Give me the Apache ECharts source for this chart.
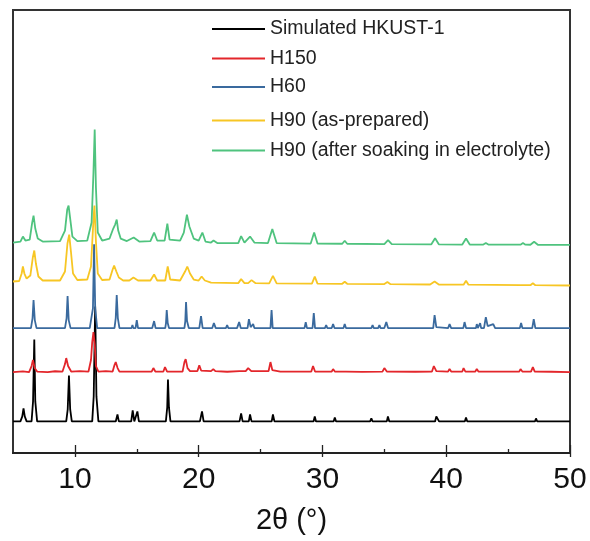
<!DOCTYPE html>
<html>
<head>
<meta charset="utf-8">
<script src="https://cdn.jsdelivr.net/npm/echarts@6/dist/echarts.min.js"></script>
<style>
html,body{margin:0;padding:0;background:#fff;}
#chart{width:590px;height:541px;}
</style>
</head>
<body>
<div id="chart"></div>
<script>
const seriesNames = ['Simulated HKUST-1', 'H150', 'H60', 'H90 (as-prepared)', 'H90 (after soaking in electrolyte)'];
const offsets = [31.6, 81, 125, 171.6, 210.6];
const xTickLabels = [10, 20, 30, 40, 50];
const xMinorTicks = [15, 25, 35, 45];

const simulated = [[5,0],[5.6,0],[5.75,5],[5.85,13],[5.95,5],[6.1,0],[6.5,0],[6.62,20],[6.72,82],[6.8,20],[6.95,0],[9.3,0],[9.42,12],[9.52,46],[9.62,12],[9.75,0],[11.4,0],[11.52,25],[11.64,115],[11.74,25],[11.9,0],[13.3,0],[13.44,7],[13.55,0],[14.55,0],[14.67,11],[14.8,0],[14.93,0],[15.05,10],[15.17,0],[17.35,0],[17.46,14],[17.52,42],[17.6,14],[17.72,0],[19.0,0],[19.1,2],[19.2,0],[20.1,0],[20.27,10],[20.4,0],[23.3,0],[23.43,8],[23.55,0],[24.05,0],[24.15,7],[24.27,0],[25.9,0],[26.0,7],[26.12,0],[28.75,0],[28.84,2],[28.95,0],[29.28,0],[29.38,5],[29.48,0],[30.9,0],[31.0,4],[31.1,0],[31.85,0],[31.94,2],[32.05,0],[33.85,0],[33.95,3],[34.05,0],[35.2,0],[35.29,5],[35.4,0],[39.1,0],[39.2,5],[39.32,4],[39.42,0],[40.3,0],[40.4,2],[40.5,0],[41.5,0],[41.6,4],[41.7,0],[42.4,0],[42.47,2],[42.55,0],[42.68,0],[42.76,2],[42.85,0],[44.0,0],[44.08,1],[44.15,0],[46.1,0],[46.17,2],[46.25,0],[47.17,0],[47.25,3],[47.35,0],[50,0]];
const h150 = [[5,0],[5.8,0.6],[6.3,0],[6.5,6],[6.61,12],[6.75,4],[6.95,0.5],[7.8,0],[8.4,0.8],[9.0,0.5],[9.2,8],[9.3,14],[9.45,6],[9.7,0.5],[10.4,1],[11.1,0.5],[11.3,12],[11.4,30],[11.5,40],[11.6,28],[11.7,6],[11.9,0.5],[12.5,1],[13.05,0.5],[13.2,7],[13.3,10],[13.45,4],[13.6,0.5],[14.5,0.5],[14.6,2],[14.7,0.5],[14.9,0.5],[15.0,2],[15.1,0.5],[16.2,0.5],[16.34,4],[16.5,0.5],[17.15,0.5],[17.28,5],[17.45,0.5],[18.7,0.5],[18.85,10],[18.95,13],[19.1,4],[19.3,1],[19.9,1],[20.05,6.7],[20.2,1.5],[21.0,1],[21.18,3],[21.35,1],[22.3,0.3],[23.3,1],[23.45,2],[23.6,1],[23.8,1],[24.0,4],[24.25,1],[25.65,1],[25.8,10],[25.95,2],[26.6,0.5],[27.5,0.5],[27.6,2],[27.75,0.5],[28.55,0.5],[28.65,2.5],[28.8,0.5],[29.1,0.5],[29.24,6],[29.4,0.5],[30.75,0.5],[30.86,3],[31.0,0.5],[31.7,0.5],[31.8,2],[31.9,0.5],[33.2,0.2],[34.85,0.5],[35.0,4],[35.2,0.5],[37.5,0.3],[38.85,0.5],[39.0,6],[39.2,1],[40.15,0.5],[40.27,3],[40.4,0.5],[41.3,0.5],[41.4,4],[41.55,0.5],[42.35,0.5],[42.47,3],[42.6,0.5],[43.8,0.5],[43.9,2],[44.0,0.5],[45.9,0.5],[46.0,3],[46.15,0.5],[46.85,0.5],[47.0,5],[47.15,0.5],[48.5,0.3],[50,0]];
const h60 = [[5,0],[6.45,0],[6.58,10],[6.66,28],[6.76,8],[6.9,0],[7.7,0],[7.78,2],[7.9,0],[9.2,0],[9.33,10],[9.41,32],[9.5,8],[9.65,0],[10.5,0],[10.55,2],[10.65,0],[11.0,0],[11.1,2],[11.2,0],[11.35,0],[11.46,20],[11.55,84],[11.64,20],[11.8,0],[13.2,0],[13.3,10],[13.38,33],[13.47,10],[13.6,0],[14.58,0],[14.65,3],[14.72,0],[14.9,0],[15.0,8],[15.1,0],[15.5,0],[15.56,2],[15.65,0],[16.25,0],[16.4,7],[16.52,0],[17.3,0],[17.36,5],[17.42,18],[17.5,5],[17.6,0],[18.85,0],[18.92,7],[18.98,26],[19.06,7],[19.2,0],[20.05,0],[20.19,12],[20.32,0],[21.1,0],[21.23,5],[21.38,0],[22.2,0],[22.3,3],[22.4,0],[22.9,0],[23.0,1.5],[23.1,0],[23.15,0],[23.27,6],[23.4,0],[23.95,0],[24.06,9],[24.2,1],[24.4,4],[24.5,0],[25.4,0],[25.45,2],[25.55,0],[25.8,0],[25.89,18],[25.98,0],[28.55,0],[28.65,6],[28.75,0],[29.2,0],[29.3,15],[29.4,0],[30.2,0],[30.3,3],[30.4,0],[30.75,0],[30.86,4],[30.97,0],[31.7,0],[31.8,4],[31.9,0],[33.95,0],[34.05,3],[34.15,0],[34.5,0],[34.6,3],[34.7,0],[35.0,0],[35.16,6],[35.3,0],[36.5,0],[36.6,2],[36.75,0],[37.7,0],[37.8,2],[37.9,0],[38.95,0],[39.06,13],[39.2,1],[40.15,0],[40.27,4],[40.4,0],[41.38,0],[41.48,6],[41.6,0],[42.4,0],[42.47,4],[42.55,0],[42.65,0],[42.74,5],[42.82,0],[43.05,0],[43.2,11],[43.35,2],[43.8,4],[43.95,0],[45.95,0],[46.05,5],[46.15,0],[46.95,0],[47.07,9],[47.2,0],[48.5,0],[48.6,1.5],[48.7,0],[50,0]];
const h90 = [[5,0],[5.5,0.5],[5.7,8],[5.8,15],[5.92,8],[6.1,3],[6.4,6],[6.6,24],[6.72,31],[6.85,18],[7.05,5],[7.4,1],[8.8,1],[9.2,10],[9.4,38],[9.54,47],[9.68,30],[9.85,8],[10.2,1.5],[11.0,2],[11.3,15],[11.5,62],[11.58,76],[11.7,40],[11.85,8],[12.2,1.5],[12.8,2],[13.05,12],[13.17,16],[13.35,10],[13.55,4],[13.9,1],[14.4,1],[14.73,4],[15.1,1],[16.1,1],[16.4,7],[16.65,1],[17.3,1],[17.5,15],[17.7,2],[18.5,1],[18.9,10],[19.08,15],[19.3,8],[19.6,2],[20.0,1],[20.24,5],[20.5,1],[21.0,-1.2],[23.2,-1.6],[23.43,2.4],[23.7,-1.6],[24.0,-1.6],[24.27,1.4],[24.6,-1.7],[25.7,-1.8],[26.0,5.7],[26.3,-1.8],[29.15,-2.1],[29.38,4.9],[29.6,-2.1],[31.6,-2.3],[31.8,-0.3],[32.0,-2.3],[35.0,-2.6],[35.25,-0.6],[35.5,-2.7],[38.7,-3.0],[39.06,0],[39.4,-3.0],[41.4,-3.2],[41.6,0.8],[41.8,-3.2],[46.0,-3.6],[46.15,-2.6],[46.3,-3.6],[46.8,-3.7],[47.0,-1.7],[47.2,-3.7],[50,-4]];
const h90soaked = [[5,0],[5.6,1],[5.8,6],[6.0,2],[6.35,3],[6.55,20],[6.66,27],[6.8,14],[7.0,4],[7.4,1],[8.8,1.5],[9.2,12],[9.38,33],[9.49,37],[9.6,26],[9.8,6],[10.2,1.5],[11.0,2],[11.35,20],[11.5,70],[11.6,113],[11.7,55],[11.85,10],[12.2,2],[12.8,4],[13.1,14],[13.25,18],[13.38,23],[13.5,12],[13.7,4],[14.2,1.5],[14.75,5],[15.2,1],[16.1,1.5],[16.4,10],[16.65,2],[17.25,2],[17.47,19],[17.65,3],[18.5,2],[18.8,10],[19.05,28],[19.25,16],[19.6,4],[20.0,2],[20.3,10],[20.55,1],[21.0,0],[21.2,2],[21.5,-0.5],[23.2,-0.5],[23.43,6.5],[23.7,0],[24.15,6],[24.5,0],[25.6,-0.5],[25.95,13.5],[26.3,-0.5],[29.05,-1],[29.33,10],[29.6,-1],[31.6,-1.2],[31.8,1.8],[32.0,-1.2],[35.0,-1.5],[35.3,2.5],[35.6,-1.6],[38.8,-1.8],[39.1,4.2],[39.4,-1.8],[41.3,-2],[41.6,4],[41.9,-2],[43.0,-2],[43.2,-0.5],[43.4,-2],[46.0,-2.1],[46.2,-0.5],[46.4,-2.1],[46.8,-2.2],[47.1,0.8],[47.4,-2.2],[50,-2.3]];

const patterns = [simulated, h150, h60, h90, h90soaked];
const colors = ['#000000', '#e3262b', '#3a6a9e', '#f7c624', '#4fc37e'];
const legendRowsY = [27.6, 57, 85.5, 119, 149];

const FONT = "'Liberation Sans', Arial, sans-serif";

const chart = echarts.init(document.getElementById('chart'), null, {renderer: 'canvas'});

const series = patterns.map((p, i) => ({
  name: seriesNames[i], type: 'line', symbol: 'none', animation: false,
  lineStyle: {color: colors[i], width: 1.8}, itemStyle: {color: colors[i]},
  data: p.map(d => [d[0], d[1] + offsets[i]])
}));

const legends = seriesNames.map((n, i) => ({
  data: [n], left: 212, top: legendRowsY[i] - 8.5, orient: 'vertical', padding: 0,
  icon: 'rect', itemWidth: 53, itemHeight: 2, itemGap: 0, selectedMode: false,
  textStyle: {fontFamily: FONT, fontSize: 19.5, color: '#222'}
}));

const xBase = {type: 'value', min: 5, max: 50, interval: 5, gridIndex: 0, position: 'bottom', splitLine: {show: false}};

chart.setOption({
  animation: false, backgroundColor: '#fff',
  grid: {left: 13, right: 20, top: 10, bottom: 88, show: true, borderColor: '#333', borderWidth: 2, outerBoundsMode: 'none', containLabel: false},
  legend: legends,
  xAxis: [
    Object.assign({}, xBase, {
      name: '2θ (°)', nameLocation: 'middle', nameGap: 53,
      nameTextStyle: {fontFamily: FONT, fontSize: 29, color: '#111'},
      axisLine: {show: true, lineStyle: {color: '#222', width: 2}},
      axisTick: {show: true, inside: true, length: 8, customValues: xTickLabels, lineStyle: {color: '#222', width: 1.3}},
      axisLabel: {show: true, customValues: xTickLabels, margin: 12, fontFamily: FONT, fontSize: 30, color: '#111'}
    }),
    Object.assign({}, xBase, {
      axisLine: {show: false},
      axisTick: {show: true, inside: false, length: 4, customValues: xTickLabels, lineStyle: {color: '#222', width: 1.3}},
      axisLabel: {show: false}
    }),
    Object.assign({}, xBase, {
      axisLine: {show: false},
      axisTick: {show: true, inside: true, length: 4, customValues: xMinorTicks, lineStyle: {color: '#222', width: 1.3}},
      axisLabel: {show: false}
    })
  ],
  yAxis: {type: 'value', min: 0, max: 443.3, show: false, splitLine: {show: false}},
  series: series
});
</script>
</body>
</html>
